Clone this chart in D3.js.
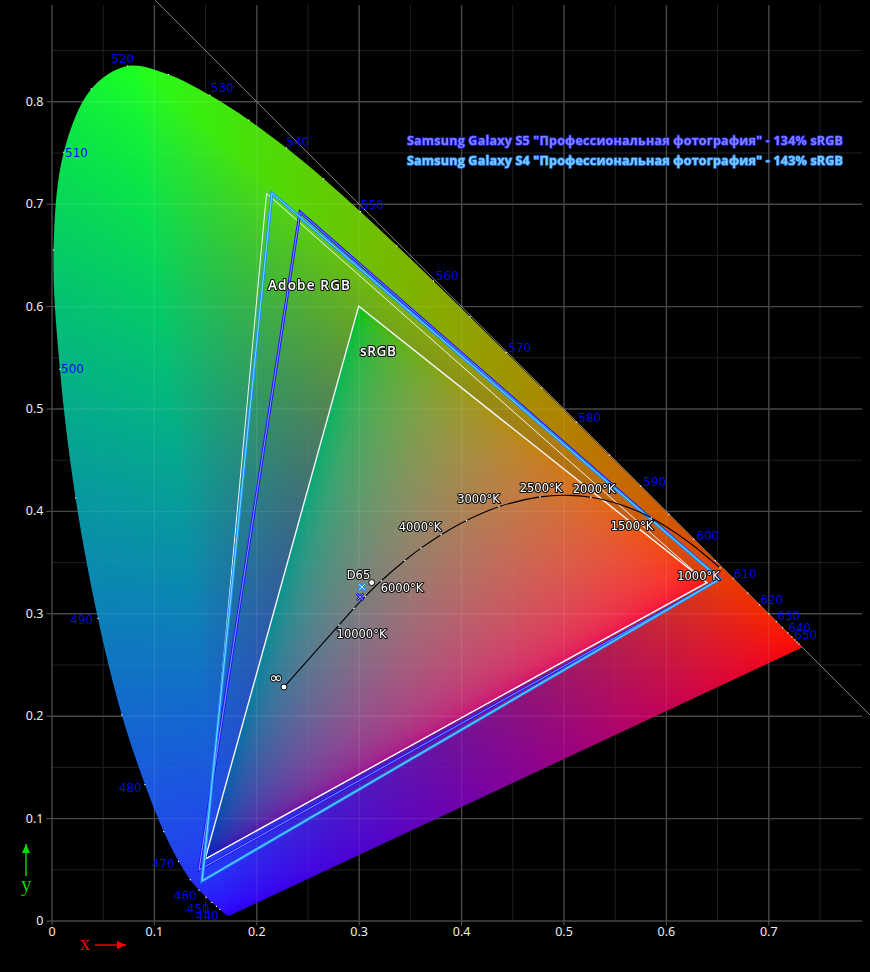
<!DOCTYPE html>
<html><head><meta charset="utf-8">
<script src="https://cdn.jsdelivr.net/npm/d3@7"></script>
<style>
html,body{margin:0;padding:0;background:#000;width:870px;height:972px;overflow:hidden}
svg,canvas{position:absolute;left:0;top:0}
text{font-family:"DejaVu Sans",sans-serif}
.axis .domain{display:none}
</style></head><body>
<svg id="under" width="870" height="972"></svg>
<canvas id="cv" width="870" height="972"></canvas>
<svg id="over" width="870" height="972"></svg>
<script>
// spectral locus
const wavelengths=[380,420,425,430,435,440,445,450,455,460,465,470,475,480,485,490,495,500,505,510,515,520,525,530,535,540,545,550,555,560,565,570,575,580,585,590,595,600,605,610,615,620,625,630,635,640,645,650,655,660,700];
const locusX=[.1741,.1714,.1703,.1689,.1669,.1644,.1611,.1566,.1510,.1440,.1355,.1241,.1096,.0913,.0687,.0454,.0235,.0082,.0020,.0120,.0389,.0743,.1142,.1547,.1929,.2296,.2658,.3016,.3373,.3731,.4087,.4441,.4788,.5125,.5448,.5752,.6029,.6270,.6482,.6658,.6801,.6915,.7006,.7079,.7140,.7190,.7230,.7260,.7283,.7300,.7330];
const locusY=[.0050,.0051,.0058,.0069,.0086,.0109,.0138,.0177,.0227,.0297,.0399,.0578,.0868,.1327,.2007,.2950,.4127,.5384,.6548,.7502,.8120,.8345,.8262,.8059,.7816,.7543,.7243,.6923,.6589,.6245,.5896,.5547,.5202,.4866,.4544,.4242,.3965,.3725,.3514,.3340,.3197,.3083,.2993,.2920,.2859,.2809,.2770,.2740,.2717,.2700,.2667];
// wavelength labels
const waveLabels=[440,450,460,470,480,490,500,510,520,530,540,550,560,570,580,590,600,610,620,630,640,650];
// gamuts (R,G,B primaries)
const srgbX=[.64,.30,.15], srgbY=[.33,.60,.06];
const adobeX=[.64,.21,.15], adobeY=[.33,.71,.06];
const s5X=[.6528,.2427,.1440], s5Y=[.3335,.6919,.0493];
const s4X=[.6528,.2153,.1470], s4Y=[.3335,.7105,.0386];
// white points
const s5White=[.3013,.3160], s4White=[.3032,.3257], d65=[.3127,.3300];
// black-body curve
const planckT=[1000,1200,1400,1500,1600,1800,2000,2200,2500,3000,3500,4000,4500,5000,6000,7000,8000,10000];
const planckX=[.6528,.6251,.5985,.5857,.5732,.5492,.5267,.5056,.4770,.4369,.4053,.3805,.3608,.3451,.3221,.3064,.2952,.2807];
const planckY=[.3444,.3674,.3858,.3931,.3993,.4082,.4133,.4152,.4137,.4041,.3907,.3768,.3636,.3516,.3318,.3166,.3048,.2884];
const planckEnd=[.2270,.2280];
const tempLabels=[1000,1500,2000,2500,3000,4000,6000,10000];
const xMajor=[0,.1,.2,.3,.4,.5,.6,.7], yMajor=[0,.1,.2,.3,.4,.5,.6,.7,.8];
const xMinor=[.05,.15,.25,.35,.45,.55,.65,.75], yMinor=[.05,.15,.25,.35,.45,.55,.65,.75,.85];
const legendTexts=['Samsung Galaxy S5 "Профессиональная фотография" - 134% sRGB','Samsung Galaxy S4 "Профессиональная фотография" - 143% sRGB'];

const W=870,H=972;
const sx=d3.scaleLinear().domain([0,.8]).range([51.5,870.7]);
const sy=d3.scaleLinear().domain([0,.8]).range([920.5,101.3]);
const locus=wavelengths.map((w,i)=>[locusX[i],locusY[i]]);

// ---------- colour field ----------
function bary(px,py,X,Y){
  const d=(Y[1]-Y[2])*(X[0]-X[2])+(X[2]-X[1])*(Y[0]-Y[2]);
  const a=((Y[1]-Y[2])*(px-X[2])+(X[2]-X[1])*(py-Y[2]))/d;
  const b=((Y[2]-Y[0])*(px-X[2])+(X[0]-X[2])*(py-Y[2]))/d;
  return [a,b,1-a-b];
}
const wideX=[.735,.08,.17], wideY=[.265,.835,.005];
function colour(px,py){
  const inS=bary(px,py,srgbX,srgbY);
  if(inS[0]>=0&&inS[1]>=0&&inS[2]>=0){
    const X=px/py,Z=(1-px-py)/py;
    let r=Math.max(0,3.2406*X-1.5372-.4986*Z),g=Math.max(0,-.9689*X+1.8758+.0415*Z),b=Math.max(0,.0557*X-.2040+1.0570*Z);
    const s=r+g+b; r/=s;g/=s;b/=s;
    return [255*Math.pow(r,.64),255*.76*Math.pow(g,.37),255*.72*Math.pow(b,.38)];
  }
  let w=bary(px,py,wideX,wideY).map(v=>Math.max(0,v));
  const s=w[0]+w[1]+w[2]; w=w.map(v=>v/s);
  const rExp=.8+.2*w[2]/(w[1]+w[2]+1e-6);
  const r=Math.pow(w[0],rExp)*255+45*Math.pow(w[2],3)+30*Math.pow(w[1],6);
  const g=Math.pow(w[1],.68)*255*(1-3*w[0]*w[2])+30*Math.pow(w[2],5)*Math.min(1,w[1]*12);
  const b=Math.pow(w[2],.76)*255+30*Math.pow(w[1],6);
  return [r,g,b];
}
const off=document.createElement('canvas');off.width=W;off.height=H;
const oc=off.getContext('2d'),img=oc.createImageData(W,H);
for(let j=0;j<H;j++)for(let i=0;i<W;i++){
  const px=sx.invert(i+.5),py=sy.invert(j+.5);
  if(py<=.001||px<=0)continue;
  const c=colour(px,py),k=(j*W+i)*4;
  img.data[k]=c[0];img.data[k+1]=c[1];img.data[k+2]=c[2];img.data[k+3]=255;
}
oc.putImageData(img,0,0);
const ctx=document.getElementById('cv').getContext('2d');
const lineGen=d3.line().x(d=>sx(d[0])).y(d=>sy(d[1]));
const locusGen=d3.line().x(d=>sx(d[0])).y(d=>sy(d[1])).curve(d3.curveCatmullRom.alpha(.5));
ctx.save();ctx.beginPath();locusGen.context(ctx)(locus);ctx.closePath();ctx.clip();ctx.drawImage(off,0,0);ctx.restore();
locusGen.context(null);

// ---------- grid ----------
const yTop=5,xRight=862;
function grid(svg,majCol,minCol,majW,minW){
  const g=svg.append('g');
  g.append('g').attr('class','axis').attr('transform',`translate(0,${sy(0)})`)
   .call(d3.axisBottom(sx).tickValues(xMinor).tickSize(-(sy(0)-yTop)).tickFormat(''))
   .selectAll('line').attr('stroke',minCol).attr('stroke-width',minW);
  g.append('g').attr('class','axis').attr('transform',`translate(${sx(0)},0)`)
   .call(d3.axisLeft(sy).tickValues(yMinor).tickSize(-(xRight-sx(0))).tickFormat(''))
   .selectAll('line').attr('stroke',minCol).attr('stroke-width',minW);
  g.append('g').attr('class','axis').attr('transform',`translate(0,${sy(0)})`)
   .call(d3.axisBottom(sx).tickValues(xMajor).tickSize(-(sy(0)-yTop)).tickFormat(''))
   .selectAll('line').attr('stroke',majCol).attr('stroke-width',majW);
  g.append('g').attr('class','axis').attr('transform',`translate(${sx(0)},0)`)
   .call(d3.axisLeft(sy).tickValues(yMajor).tickSize(-(xRight-sx(0))).tickFormat(''))
   .selectAll('line').attr('stroke',majCol).attr('stroke-width',majW);
  return g;
}
const under=d3.select('#under');
grid(under,'#474747','#202020',1.4,1);
const fmt=d=>d===0?'0':d3.format('.1f')(d);
const ax=under.append('g').attr('class','axis').attr('transform',`translate(0,${sy(0)})`)
  .call(d3.axisBottom(sx).tickValues(xMajor).tickSize(5).tickPadding(2).tickFormat(fmt));
const ay=under.append('g').attr('class','axis').attr('transform',`translate(${sx(0)},0)`)
  .call(d3.axisLeft(sy).tickValues(yMajor).tickSize(5).tickPadding(3).tickFormat(fmt));
[ax,ay].forEach(a=>{a.selectAll('line').attr('stroke','#5a5a5a');
  a.selectAll('text').attr('fill','#eee').style('font-family','"Noto Sans"').style('font-size','12.5px');});

// diagonal x+y=1
under.append('line').attr('x1',sx(.1)).attr('y1',sy(.9)).attr('x2',sx(.8)).attr('y2',sy(.2))
  .attr('stroke','#9a9a9a').attr('stroke-width',.8);

const over=d3.select('#over');
over.append('defs').append('clipPath').attr('id','loc').append('path').attr('d',locusGen(locus)+'Z');
grid(over.append('g').attr('clip-path','url(#loc)'),'rgba(255,255,255,.08)','rgba(255,255,255,.03)',1.4,1);

// ---------- locus dots ----------
over.append('g').selectAll('rect').data(wavelengths.filter(w=>w>=440&&w<=660).map(w=>locus[wavelengths.indexOf(w)]))
  .join('rect').attr('x',d=>sx(d[0])-.6).attr('y',d=>sy(d[1])-.6).attr('width',1.2).attr('height',1.2).attr('fill','#fff');

// ---------- gamuts ----------
function tri(X,Y){return lineGen(X.map((v,i)=>[v,Y[i]]))+'Z';}
function stroke(d,col,w){over.append('path').attr('d',d).attr('fill','none').attr('stroke',col).attr('stroke-width',w).attr('stroke-linejoin','miter');}
stroke(tri(adobeX,adobeY),'#f4f4f4',1);
stroke(tri(srgbX,srgbY),'#f4f4f4',1.4);
stroke(tri(s5X,s5Y),'#1a1aff',3);
stroke(tri(s5X,s5Y),'#8f8fff',1);
stroke(tri(s4X,s4Y),'#1e90ff',3);
stroke(tri(s4X,s4Y),'#74dcff',1);

// ---------- black-body curve ----------
const curve=d3.line().x(d=>sx(d[0])).y(d=>sy(d[1])).curve(d3.curveCatmullRom.alpha(.5));
const plPts=planckX.map((v,i)=>[v,planckY[i]]).concat([planckEnd]);
over.append('path').attr('d',curve(plPts)).attr('fill','none').attr('stroke','#000').attr('stroke-width',1.1);
over.append('g').selectAll('rect').data(plPts.slice(0,-1).filter((d,i)=>[1000,1500,2000,2500,3000,3500,4000,4500,5000,6000,7000,8000,10000].includes(planckT[i])))
  .join('rect').attr('x',d=>sx(d[0])-.7).attr('y',d=>sy(d[1])-.7).attr('width',1.4).attr('height',1.4).attr('fill','#fff');
[planckEnd,d65].forEach(p=>over.append('circle').attr('cx',sx(p[0])).attr('cy',sy(p[1])).attr('r',3).attr('fill','#fff').attr('stroke','#000').attr('stroke-width',1));

// white-point crosses
function cross(p,col,core){
  const g=over.append('g').attr('transform',`translate(${sx(p[0])},${sy(p[1])})`);
  g.append('path').attr('d',d3.symbol(d3.symbolX,30)()).attr('stroke',col).attr('stroke-width',2.6).attr('fill','none');
  g.append('path').attr('d',d3.symbol(d3.symbolX,24)()).attr('stroke',core).attr('stroke-width',.9).attr('fill','none');
}
cross(s5White,'#1414ff','#a0a0ff');
cross(s4White,'#1e90ff','#c8f0ff');

// ---------- labels ----------
// wavelength label placement (pixel layout)
const waveLayout={440:[207,920],450:[198,913],460:[185,900],470:[163,868],480:[130,792],490:[81.5,624],500:[72.5,373],510:[76.5,157],520:[122.5,63],530:[222,92],540:[297.5,146],550:[372,209],560:[447,280],570:[519.5,352],580:[589.5,422],590:[654.5,486],600:[707.5,540],610:[745,578],620:[771.5,604],630:[788.5,620],640:[799.5,632],650:[805.5,639]};
over.append('g').selectAll('text').data(waveLabels).join('text')
  .attr('x',d=>waveLayout[d][0]).attr('y',d=>waveLayout[d][1]).attr('text-anchor','middle')
  .attr('fill','#0000ff').style('font-size','12px').text(d=>d);

const tempLayout={1000:[698.5,580],1500:[632,530],2000:[594,493],2500:[541,492],3000:[478.5,503],4000:[420,531],6000:[402,592],10000:[361.5,638]};
function halo(sel,size,fam){
  sel.attr('fill','#fff').attr('stroke','#111').attr('stroke-width',2.2).attr('paint-order','stroke').attr('stroke-linejoin','round').style('font-size',size);
  if(fam)sel.style('font-family',fam);
  return sel;
}
halo(over.append('g').selectAll('text').data(tempLabels).join('text')
  .attr('x',d=>tempLayout[d][0]).attr('y',d=>tempLayout[d][1]).attr('text-anchor','middle').text(d=>d+'°K'),'11.5px');
halo(over.append('text').attr('x',358.5).attr('y',579).attr('text-anchor','middle').text('D65'),'11.5px');
halo(over.append('text').attr('x',276).attr('y',683).attr('text-anchor','middle').text('∞'),'16px');
const comic='"Open Sans",sans-serif';
halo(over.append('text').attr('x',268).attr('y',290).attr('textLength',82).attr('font-weight',600).text('Adobe RGB'),'13.5px',comic);
halo(over.append('text').attr('x',360).attr('y',356).attr('textLength',36).attr('font-weight',600).text('sRGB'),'13.5px',comic);

// legend
const legY=[145,165],legFill=['#8080ff','#7cc8ff'],legStroke=['#2222ee','#1e78e6'];
over.append('g').selectAll('text').data(legendTexts).join('text')
  .attr('x',407).attr('y',(d,i)=>legY[i]).attr('textLength',436).attr('lengthAdjust','spacing')
  .attr('font-weight',700).attr('fill',(d,i)=>legFill[i]).attr('stroke',(d,i)=>legStroke[i]).attr('stroke-width',1.6)
  .attr('paint-order','stroke').attr('stroke-linejoin','round')
  .style('font-family',comic).style('font-size','12.5px').text(d=>d);

// axis names + arrows
function arrow(x1,y1,x2,y2,col){
  over.append('line').attr('x1',x1).attr('y1',y1).attr('x2',x2).attr('y2',y2).attr('stroke',col).attr('stroke-width',1.4);
  const a=Math.atan2(y2-y1,x2-x1),L=9,W2=4;
  const p=[[x2,y2],[x2-L*Math.cos(a)-W2*Math.sin(a),y2-L*Math.sin(a)+W2*Math.cos(a)],[x2-L*Math.cos(a)+W2*Math.sin(a),y2-L*Math.sin(a)-W2*Math.cos(a)]];
  over.append('path').attr('d',d3.line()(p)+'Z').attr('fill',col);
}
over.append('text').attr('x',80).attr('y',949.5).attr('fill','#f00').style('font-family','"Liberation Serif"').style('font-size','21px').text('x');
arrow(95,945,126,945,'#f00');
over.append('text').attr('x',21).attr('y',891).attr('fill','#00dd00').style('font-family','"Liberation Serif"').style('font-size','21px').text('y');
arrow(26,876,26,844,'#00dd00');
</script>
</body></html>
